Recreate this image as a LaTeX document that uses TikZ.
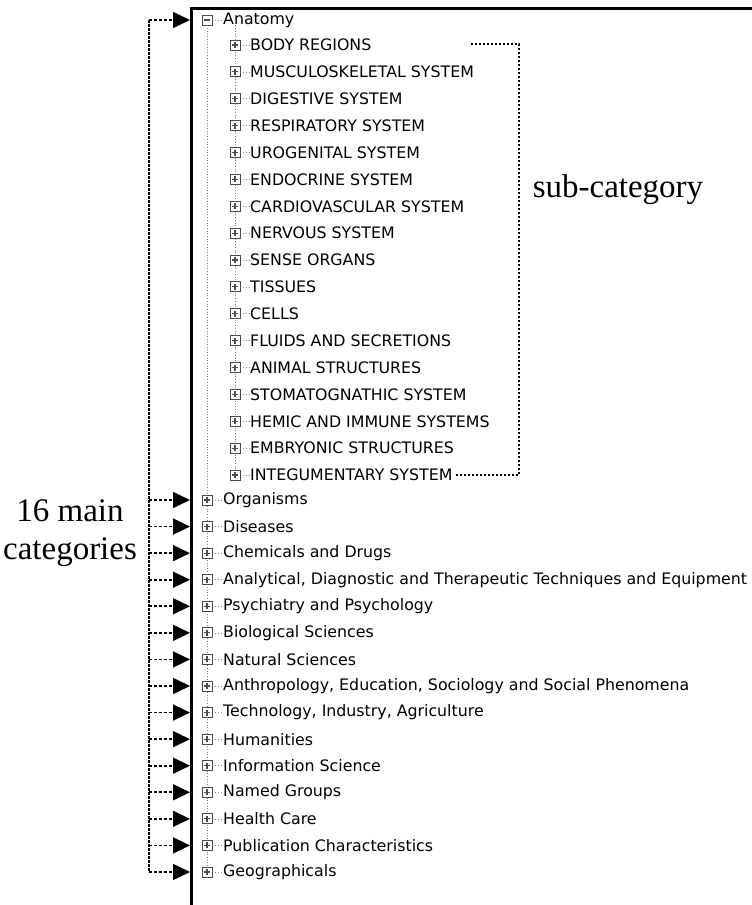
\documentclass[tikz,border=0pt]{standalone}
\usepackage{fontspec}
\setmainfont{Liberation Serif}
\newfontfamily\treefont{DejaVu Sans}
\usetikzlibrary{arrows.meta,backgrounds}

\tikzset{
  treetext/.style={anchor=west, inner sep=0pt, font=\treefont\fontsize{15.8}{16}\selectfont},
  iconbox/.style={draw=gray!60!black, fill=white, minimum size=10pt, inner sep=0pt, line width=0.8pt},
  plusbox/.style={iconbox, path picture={
    \draw[line width=1.1pt] ([xshift=-3pt]path picture bounding box.center) -- ([xshift=3pt]path picture bounding box.center)
      ([yshift=-3pt]path picture bounding box.center) -- ([yshift=3pt]path picture bounding box.center);}},
  minusbox/.style={iconbox, path picture={
    \draw[line width=1.1pt] ([xshift=-3pt]path picture bounding box.center) -- ([xshift=3pt]path picture bounding box.center);}},
  treeline/.style={draw=gray, dotted, line width=0.7pt},
  pointer/.style={dash pattern=on 3pt off 2pt, line width=1.6pt, -{Triangle[length=17pt,width=16pt]}},
  bracket/.style={dash pattern=on 2.5pt off 1.5pt, line width=1.6pt},
  caption/.style={font=\fontsize{33}{38}\selectfont, align=center, inner sep=0pt}
}

\begin{document}
\begin{tikzpicture}[x=1pt, y=-1pt]
 \useasboundingbox (0,0) rectangle (752,905);

 % window frame
 \draw [line width=3pt] (752,8) -- (191,8) -- (191,905);

 \coordinate (lft) at (149,0);
 \coordinate (frm) at (190,0);

 % root of the tree
 \node [minusbox] (top) at (207,20) {};
 \node [treetext] (anat) at (223,20) {Anatomy};

 % sub-categories
 \foreach \txt [count=\i] in {BODY REGIONS, MUSCULOSKELETAL SYSTEM, DIGESTIVE SYSTEM,
   RESPIRATORY SYSTEM, UROGENITAL SYSTEM, ENDOCRINE SYSTEM, CARDIOVASCULAR SYSTEM,
   NERVOUS SYSTEM, SENSE ORGANS, TISSUES, CELLS, FLUIDS AND SECRETIONS,
   ANIMAL STRUCTURES, STOMATOGNATHIC SYSTEM, HEMIC AND IMMUNE SYSTEMS,
   EMBRYONIC STRUCTURES, INTEGUMENTARY SYSTEM}{
   \node [plusbox] (sb\i) at (235,{45+26.875*(\i-1)}) {};
   \node [treetext] (s\i) at (250,{45+26.875*(\i-1)}) {\txt};
 }

 % main categories
 \foreach \txt [count=\i] in {Organisms, Diseases, Chemicals and Drugs,
   {Analytical, Diagnostic and Therapeutic Techniques and Equipment},
   Psychiatry and Psychology, Biological Sciences, Natural Sciences,
   {Anthropology, Education, Sociology and Social Phenomena},
   {Technology, Industry, Agriculture}, Humanities, Information Science,
   Named Groups, Health Care, Publication Characteristics, Geographicals}{
   \node [plusbox] (mb\i) at (207,{500+26.57*(\i-1)}) {};
   \node [treetext] (m\i) at (223,{500+26.57*(\i-1)}) {\txt};
 }

 % dotted tree lines
 \begin{scope}[on background layer]
  \draw [treeline] (top) -- (mb15);
  \draw [treeline] (sb1 |- top.south) -- (sb17);
  \draw [treeline] (top) -- (anat);
  \foreach \i in {1,...,17} \draw [treeline] (sb\i) -- (s\i);
  \foreach \i in {1,...,15} \draw [treeline] (mb\i) -- (m\i);
 \end{scope}

 % pointers to the 16 main categories
 \draw [bracket] (lft |- top) -- (lft |- mb15);
 \draw [pointer] (lft |- top) -- (frm |- top);
 \foreach \i in {1,...,15} \draw [pointer] (lft |- mb\i) -- (frm |- mb\i);

 % bracket round the sub-categories
 \coordinate (brk) at (519,44);
 \draw [bracket] ([xshift=3pt]s17.east) -| (brk) -- ++(-49,0);

 \node [caption] (mainlbl) at (70,533) {16 main\\categories};
 \node [caption] (sublbl) at (618,190) {sub-category};
\end{tikzpicture}
\end{document}
